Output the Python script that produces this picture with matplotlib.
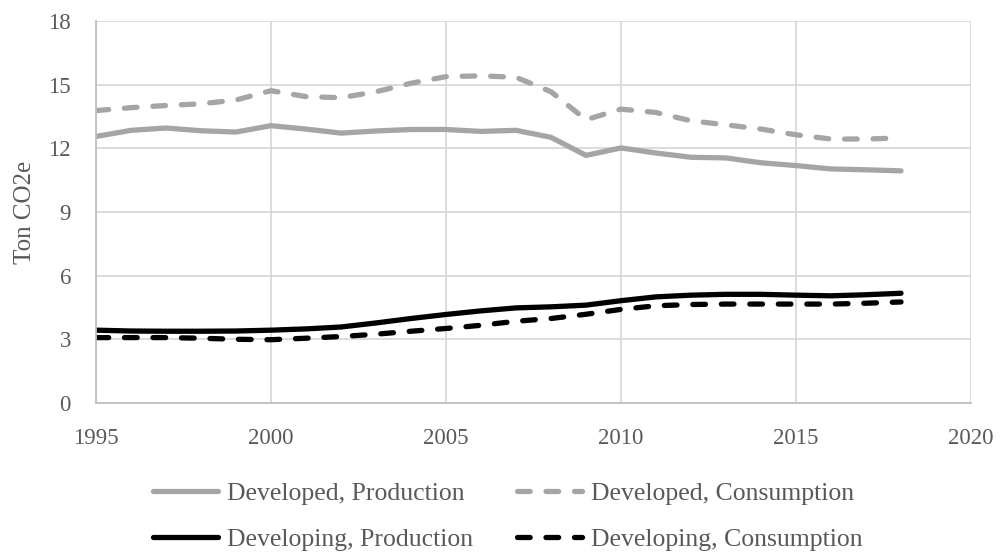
import matplotlib
matplotlib.use("Agg")
import matplotlib.pyplot as plt

years = list(range(1995, 2019))
developed_production = [12.56, 12.85, 12.96, 12.83, 12.77, 13.07, 12.91, 12.72, 12.82, 12.89,
                        12.89, 12.80, 12.85, 12.52, 11.67, 12.02, 11.78, 11.58, 11.55, 11.32,
                        11.19, 11.03, 10.99, 10.94]
developed_consumption = [13.78, 13.92, 14.02, 14.10, 14.28, 14.72, 14.44, 14.39, 14.67, 15.07,
                         15.38, 15.42, 15.35, 14.67, 13.35, 13.85, 13.69, 13.30, 13.11, 12.91,
                         12.64, 12.44, 12.44, 12.49]
developing_production = [3.43, 3.39, 3.38, 3.38, 3.39, 3.43, 3.49, 3.58, 3.77, 3.98,
                         4.17, 4.34, 4.48, 4.53, 4.61, 4.82, 5.00, 5.08, 5.12, 5.12,
                         5.08, 5.05, 5.10, 5.17]
developing_consumption = [3.08, 3.08, 3.08, 3.05, 3.00, 2.98, 3.05, 3.13, 3.24, 3.38,
                          3.51, 3.66, 3.85, 3.98, 4.18, 4.41, 4.58, 4.64, 4.66, 4.66,
                          4.66, 4.66, 4.70, 4.76]
series_labels = ["Developed, Production", "Developed, Consumption",
                 "Developing, Production", "Developing, Consumption"]
x_ticks = [1995, 2000, 2005, 2010, 2015, 2020]
y_ticks = [0, 3, 6, 9, 12, 15, 18]

GRAY = "#A5A5A5"
GRID = "#D9D9D9"
AXIS = "#BFBFBF"
TEXT = "#595959"
LW = 3.8
DASH = (2.4, 3.0)

plt.rcParams['font.family'] = ['Liberation Serif', 'DejaVu Serif']

fig = plt.figure(figsize=(10, 5.55), dpi=100)
ax = fig.add_axes([0.096, 0.274, 0.875, 0.688])

styles = [
    dict(color=GRAY, linestyle='-'),
    dict(color=GRAY, linestyle=(0, DASH)),
    dict(color='black', linestyle='-'),
    dict(color='black', linestyle=(0, DASH)),
]
data = [developed_production, developed_consumption, developing_production, developing_consumption]
handles = []
for vals, st, lab in zip(data, styles, series_labels):
    ln, = ax.plot(years, vals, linewidth=LW, solid_capstyle='round', dash_capstyle='round',
                  solid_joinstyle='round', label=lab, **st)
    handles.append(ln)

ax.set_xlim(1995, 2020)
ax.set_ylim(0, 18)
ax.set_xticks(x_ticks)
ax.set_yticks(y_ticks)
ax.grid(True, color=GRID, linewidth=1.3)
ax.set_axisbelow(True)
for name, s in ax.spines.items():
    if name in ('left', 'bottom'):
        s.set_color(AXIS)
        s.set_linewidth(1.3)
    else:
        s.set_visible(False)
ax.tick_params(length=0, labelsize=16.5, colors=TEXT)
ax.tick_params(axis='y', pad=18)
ax.tick_params(axis='x', pad=18)
ax.set_ylabel("Ton CO2e", fontsize=18, color=TEXT)
ax.yaxis.set_label_coords(-0.068, 0.5)

leg_kw = dict(frameon=False, fontsize=18.5, handlelength=2.55, handletextpad=0.35,
              labelspacing=0.9, borderpad=0, borderaxespad=0, loc='center left')
leg1 = fig.legend([handles[0], handles[2]], [series_labels[0], series_labels[2]],
                  bbox_to_anchor=(0.1526, 0.0694), **leg_kw)
leg2 = fig.legend([handles[1], handles[3]], [series_labels[1], series_labels[3]],
                  bbox_to_anchor=(0.5165, 0.0694), **leg_kw)
for leg in (leg1, leg2):
    for t in leg.get_texts():
        t.set_color(TEXT)

fig.savefig("out.png", dpi=100)
